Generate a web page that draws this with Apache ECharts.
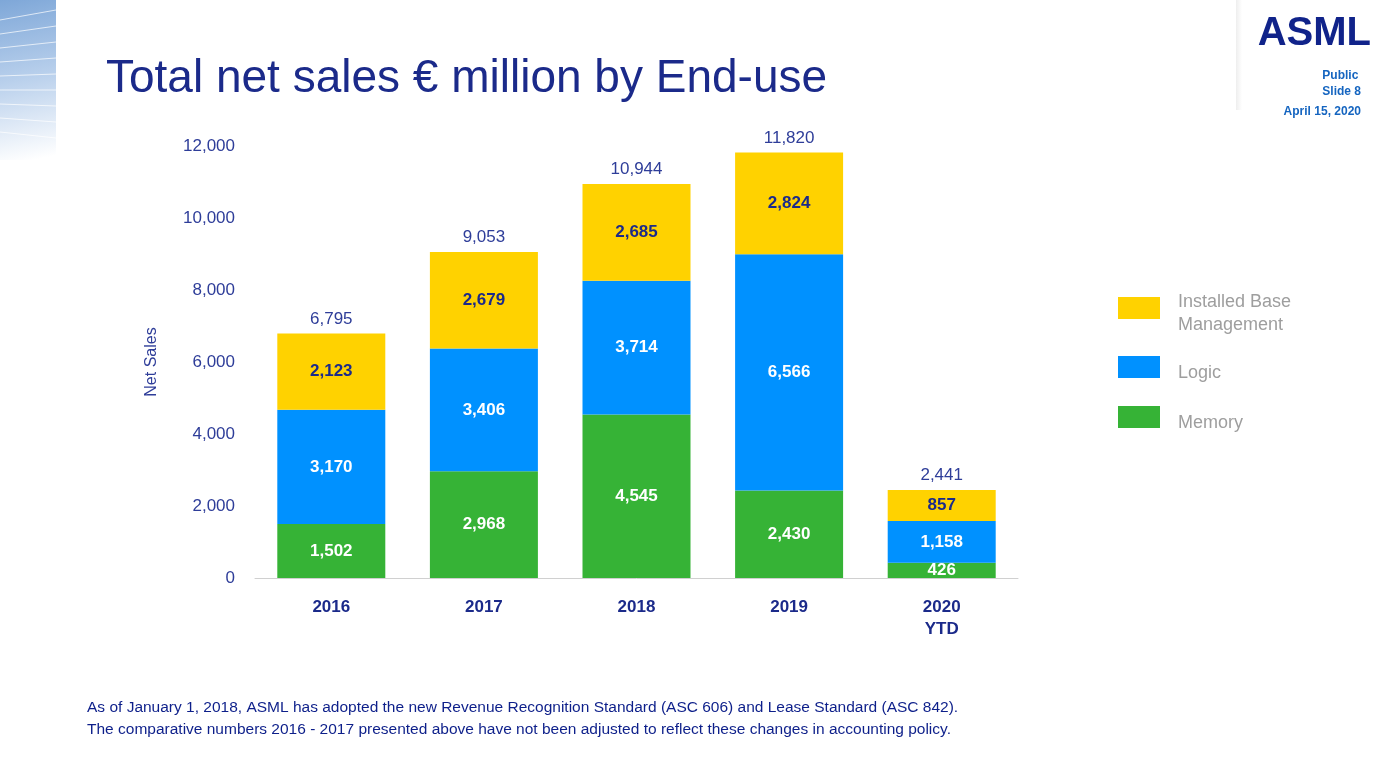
<!DOCTYPE html>
<html><head><meta charset="utf-8">
<script src="https://cdn.jsdelivr.net/npm/echarts@6/dist/echarts.min.js"></script>
<style>html,body{margin:0;padding:0;background:#fff}#c{width:1387px;height:780px}</style>
</head><body><div id="c"></div>
<script>
const categories = ['2016','2017','2018','2019','2020\nYTD'];
const memory = [1502, 2968, 4545, 2430, 426];
const logic = [3170, 3406, 3714, 6566, 1158];
const ibm = [2123, 2679, 2685, 2824, 857];
const totals = [6795, 9053, 10944, 11820, 2441];
const seriesNames = ['Installed Base\nManagement','Logic','Memory'];
const seriesColors = ['#ffd200','#0091ff','#36b336'];

const fmt = v => v.toLocaleString('en-US');
const navy = '#1b2a8a';
const F = '"Liberation Sans", Arial, sans-serif';
const legendTops = [297, 356, 406];
const textTops = [291, 362, 412];
const legendGraphics = [];
seriesNames.forEach((n,i)=>{
  legendGraphics.push({type:'rect', left:1118, top:legendTops[i], shape:{width:42,height:22}, style:{fill:seriesColors[i]}});
  legendGraphics.push({type:'text', left:1178, top:textTops[i], style:{text:n, fill:'#9e9e9e', font:'18px '+F, lineHeight:23}});
});
const lines = [];
for (let i=0;i<9;i++) lines.push({type:'line', shape:{x1:0,y1:20+i*14,x2:56,y2:10+i*16}, style:{stroke:'rgba(255,255,255,0.7)', lineWidth:1}});
const chart = echarts.init(document.getElementById('c'));
chart.setOption({
  backgroundColor: '#fff',
  textStyle: {fontFamily: 'Liberation Sans'},
  graphic: [
    {type:'rect', left:0, top:0, shape:{width:56, height:160}, style:{fill:{type:'linear',x:0,y:0,x2:0.6,y2:1,colorStops:[{offset:0,color:'#7ea7d8'},{offset:0.5,color:'#b9d0ec'},{offset:1,color:'#ffffff'}]}}},
    ...lines,
    {type:'rect', left:1236, top:0, shape:{width:6, height:110}, style:{fill:{type:'linear',x:0,y:0,x2:1,y2:0,colorStops:[{offset:0,color:'#eeeeee'},{offset:1,color:'#ffffff'}]}}},
    {type:'text', left:106, top:56, style:{text:'Total net sales € million by End-use', fill:navy, font:'46px '+F}},
    {type:'text', right:16, top:14, style:{text:'ASML', fill:'#10238a', font:'900 40px '+F}},
    {type:'text', right:26, top:68, style:{text:'Public\nSlide 8', fill:'#1565c0', font:'bold 12px '+F, align:'right', lineHeight:16}},
    {type:'text', right:26, top:106, style:{text:'April 15, 2020', fill:'#1565c0', font:'bold 12px '+F, align:'right'}},
    {type:'text', left:87, top:697, style:{text:'As of January 1, 2018, ASML has adopted the new Revenue Recognition Standard (ASC 606) and Lease Standard (ASC 842).\nThe comparative numbers 2016 - 2017 presented above have not been adjusted to reflect these changes in accounting policy.', fill:'#0d1f8a', font:'15.5px '+F, lineHeight:22}},
    ...legendGraphics
  ],
  grid: {left:255, right:369, top:146, bottom:202},
  xAxis: {type:'category', data:categories,
    axisLine:{lineStyle:{color:'#d0d0d0'}}, axisTick:{show:false},
    axisLabel:{color:navy, fontWeight:'bold', fontSize:17, margin:18, lineHeight:22}},
  yAxis: {type:'value', min:0, max:12000, interval:2000,
    name:'Net Sales', nameLocation:'middle', nameGap:95, nameRotate:90,
    nameTextStyle:{color:'#2e3d99', fontSize:16},
    splitLine:{show:false}, axisLine:{show:false}, axisTick:{show:false},
    axisLabel:{color:'#2e3d99', fontSize:17, margin:20, formatter:v=>fmt(v)}},
  series: [
    {name:'Memory', type:'bar', stack:'s', barWidth:108, data:memory, itemStyle:{color:seriesColors[2]},
      label:{show:true, color:'#fff', fontWeight:'bold', fontSize:17, formatter:p=>fmt(p.value)}},
    {name:'Logic', type:'bar', stack:'s', data:logic, itemStyle:{color:seriesColors[1]},
      label:{show:true, color:'#fff', fontWeight:'bold', fontSize:17, formatter:p=>fmt(p.value)}},
    {name:'Installed Base Management', type:'bar', stack:'s', data:ibm, itemStyle:{color:seriesColors[0]},
      label:{show:true, color:navy, fontWeight:'bold', fontSize:17, formatter:p=>fmt(p.value)}},
    {name:'total', type:'bar', stack:'s', data:totals.map(()=>0), itemStyle:{color:'transparent'},
      label:{show:true, position:'top', color:'#2e3d99', fontSize:17, distance:6, formatter:p=>fmt(totals[p.dataIndex])}}
  ]
});
</script></body></html>
